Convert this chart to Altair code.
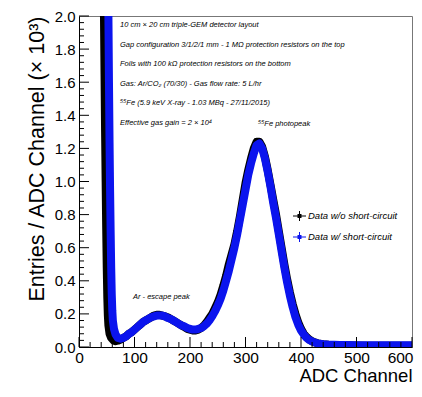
import altair as alt
import pandas as pd

# ---- data (ADC channel, entries in units of 10^3) ----
adc_wo = [45, 46, 47, 48, 49, 50, 51, 52, 53, 55, 58, 62, 66, 70, 75,
          80, 85, 90, 95, 100, 105, 110, 115, 120, 125, 130, 135, 140, 145, 150,
          155, 160, 165, 170, 175, 180, 185, 190, 195, 200, 205, 210, 215, 220,
          225, 230, 235, 240, 245, 250, 255, 260, 265, 270, 275, 280, 285, 290,
          295, 300, 305, 310, 315, 320, 325, 330, 335, 340, 345, 350, 355, 360,
          365, 370, 375, 380, 385, 390, 395, 400, 405, 410, 415, 420, 425, 430,
          440, 450, 460, 470, 480, 500, 520, 540, 560, 580, 600]
val_wo = [2.0, 1.65, 1.3, 1.0, 0.72, 0.48, 0.3, 0.19, 0.13, 0.08, 0.055, 0.04, 0.035, 0.038, 0.045,
          0.055, 0.065, 0.08, 0.09, 0.105, 0.12, 0.135, 0.15, 0.16, 0.17, 0.18, 0.19, 0.195, 0.195, 0.19,
          0.185, 0.18, 0.17, 0.16, 0.15, 0.14, 0.13, 0.12, 0.11, 0.105, 0.10, 0.10, 0.105, 0.115,
          0.13, 0.15, 0.175, 0.20, 0.235, 0.27, 0.315, 0.37, 0.43, 0.50, 0.56, 0.62, 0.70, 0.79,
          0.89, 0.99, 1.07, 1.14, 1.20, 1.24, 1.24, 1.21, 1.15, 1.07, 0.98, 0.89, 0.80, 0.70,
          0.60, 0.50, 0.41, 0.33, 0.26, 0.20, 0.15, 0.11, 0.08, 0.06, 0.045, 0.035, 0.028, 0.022,
          0.017, 0.014, 0.012, 0.011, 0.010, 0.009, 0.008, 0.008, 0.007, 0.007, 0.007]

adc_w = [53, 54, 55, 56, 57, 58, 59, 60, 61, 63, 66, 70, 75,
         80, 85, 90, 95, 100, 105, 110, 115, 120, 125, 130, 135, 140, 145, 150,
         155, 160, 165, 170, 175, 180, 185, 190, 195, 200, 205, 210, 215, 220,
         225, 230, 235, 240, 245, 250, 255, 260, 265, 270, 275, 280, 285, 290,
         295, 300, 305, 310, 315, 320, 325, 330, 335, 340, 345, 350, 355, 360,
         365, 370, 375, 380, 385, 390, 395, 400, 405, 410, 415, 420, 425, 430,
         440, 450, 460, 470, 480, 500, 520, 540, 560, 580, 600]
val_w = [2.0, 1.6, 1.25, 0.95, 0.7, 0.48, 0.32, 0.22, 0.16, 0.11, 0.075, 0.055, 0.05,
         0.055, 0.065, 0.08, 0.09, 0.105, 0.12, 0.135, 0.15, 0.16, 0.17, 0.18, 0.185, 0.19, 0.19, 0.19,
         0.185, 0.175, 0.17, 0.16, 0.15, 0.14, 0.13, 0.125, 0.115, 0.11, 0.105, 0.105, 0.11, 0.115,
         0.125, 0.14, 0.16, 0.185, 0.215, 0.25, 0.29, 0.34, 0.40, 0.46, 0.53, 0.60, 0.68, 0.77,
         0.86, 0.95, 1.04, 1.11, 1.17, 1.22, 1.23, 1.20, 1.14, 1.06, 0.97, 0.87, 0.78, 0.68,
         0.58, 0.48, 0.39, 0.31, 0.24, 0.18, 0.135, 0.10, 0.075, 0.055, 0.042, 0.033, 0.027, 0.022,
         0.017, 0.014, 0.013, 0.012, 0.012, 0.011, 0.011, 0.011, 0.011, 0.011, 0.011]

x_major = [0, 100, 200, 300, 400, 500, 600]
x_minor = [20, 40, 60, 80, 120, 140, 160, 180, 220, 240, 260, 280, 320, 340, 360, 380,
           420, 440, 460, 480, 520, 540, 560, 580]
y_major = [0.0, 0.2, 0.4, 0.6, 0.8, 1.0, 1.2, 1.4, 1.6, 1.8, 2.0]
y_minor = [0.04, 0.08, 0.12, 0.16, 0.24, 0.28, 0.32, 0.36, 0.44, 0.48, 0.52, 0.56,
           0.64, 0.68, 0.72, 0.76, 0.84, 0.88, 0.92, 0.96, 1.04, 1.08, 1.12, 1.16,
           1.24, 1.28, 1.32, 1.36, 1.44, 1.48, 1.52, 1.56, 1.64, 1.68, 1.72, 1.76,
           1.84, 1.88, 1.92, 1.96]

notes = [
    "10 cm × 20 cm triple-GEM detector layout",
    "Gap configuration 3/1/2/1 mm - 1 MΩ protection resistors on the top",
    "Foils with 100 kΩ protection resistors on the bottom",
    "Gas: Ar/CO₂ (70/30) - Gas flow rate: 5 L/hr",
    "⁵⁵Fe (5.9 keV X-ray - 1.03 MBq - 27/11/2015)",
    "Effective gas gain = 2 × 10⁴",
]
legend_labels = ["Data w/o short-circuit", "Data w/ short-circuit"]
series_colors = ["#000000", "#0b14ee"]

W, H = 333, 331
FONT = "Liberation Sans"

xs = alt.Scale(domain=[0, 600], nice=False, zero=False)
ys = alt.Scale(domain=[0, 2.0], nice=False, zero=False)

x_axis = alt.Axis(values=x_major, tickSize=0, labelFontSize=15.5, labelFont=FONT,
                  labelPadding=3, labelFlush=False, labelOverlap=False, grid=False,
                  labelAlign={"expr": "datum.value >= 600 ? 'right' : 'center'"},
                  labelOffset={"expr": "datum.value >= 600 ? 1 : 0"},
                  domainColor="#000", title="ADC Channel", titleFont=FONT,
                  titleFontSize=18.5, titleFontWeight="normal", titleAnchor="end",
                  titlePadding=1, titleColor="#000", labelColor="#000")
y_axis = alt.Axis(values=y_major, format=".1f", tickSize=0, labelFontSize=15,
                  labelFont=FONT, labelPadding=4, labelFlush=False, labelOverlap=False,
                  grid=False, domainColor="#000",
                  title="Entries / ADC Channel (× 10³)", titleFont=FONT,
                  titleFontSize=21.5, titleFontWeight="normal", titleAnchor="end",
                  titlePadding=6, titleColor="#000", labelColor="#000")

df_wo = pd.DataFrame({"adc": adc_wo, "val": val_wo})
df_w = pd.DataFrame({"adc": adc_w, "val": val_w})

line_wo = alt.Chart(df_wo).mark_line(color=series_colors[0], strokeWidth=8, clip=True,
                                     strokeJoin="round").encode(
    x=alt.X("adc:Q", scale=xs, axis=x_axis),
    y=alt.Y("val:Q", scale=ys, axis=y_axis),
)
line_w = alt.Chart(df_w).mark_line(color=series_colors[1], strokeWidth=8, clip=True,
                                   strokeJoin="round").encode(
    x=alt.X("adc:Q", scale=xs, axis=x_axis),
    y=alt.Y("val:Q", scale=ys, axis=y_axis),
)

def xticks(vals, length):
    return alt.Chart(pd.DataFrame({"adc": vals})).mark_rule(color="#000", strokeWidth=1).encode(
        x=alt.X("adc:Q", scale=xs, axis=x_axis),
        y=alt.value(H), y2=alt.value(H - length))

def yticks(vals, length):
    return alt.Chart(pd.DataFrame({"val": vals})).mark_rule(color="#000", strokeWidth=1).encode(
        y=alt.Y("val:Q", scale=ys, axis=y_axis),
        x=alt.value(0), x2=alt.value(length))

layers = [line_wo, line_w,
          xticks(x_major, 10), xticks(x_minor, 5),
          yticks(y_major, 10), yticks(y_minor, 5)]

one = pd.DataFrame({"a": [0]})
txt = dict(align="left", baseline="middle", fontSize=7.5, fontStyle="italic",
           font=FONT, color="#000")
for i, line in enumerate(notes):
    layers.append(alt.Chart(one).mark_text(text=line, **txt).encode(
        x=alt.value(41), y=alt.value(9 + 19.5 * i)))

layers.append(alt.Chart(one).mark_text(text="Ar - escape peak", **txt).encode(
    x=alt.value(54), y=alt.value(281)))
layers.append(alt.Chart(one).mark_text(text="⁵⁵Fe photopeak", **txt).encode(
    x=alt.value(179), y=alt.value(108)))

# legend
for i, (lab, col) in enumerate(zip(legend_labels, series_colors)):
    yy = 200 + 21 * i
    layers.append(alt.Chart(one).mark_rule(color=col, strokeWidth=1).encode(
        x=alt.value(214), x2=alt.value(227), y=alt.value(yy)))
    layers.append(alt.Chart(one).mark_rule(color=col, strokeWidth=1).encode(
        x=alt.value(220.5), y=alt.value(yy - 5), y2=alt.value(yy + 5)))
    layers.append(alt.Chart(one).mark_point(shape="square", filled=True, color=col,
                                            size=16, opacity=1).encode(
        x=alt.value(220.5), y=alt.value(yy)))
    layers.append(alt.Chart(one).mark_text(text=lab, align="left", baseline="middle",
                                           fontSize=9.5, fontStyle="italic", font=FONT,
                                           color="#000").encode(
        x=alt.value(229), y=alt.value(yy)))

chart = alt.layer(*layers).properties(
    width=W, height=H,
    autosize=alt.AutoSizeParams(type="none"),
    padding={"left": 71, "top": 8, "right": 2, "bottom": 40},
    background="white",
).configure_view(stroke="#777", strokeWidth=1)

chart.save("out.html", embed_options={"renderer": "svg", "actions": False})
